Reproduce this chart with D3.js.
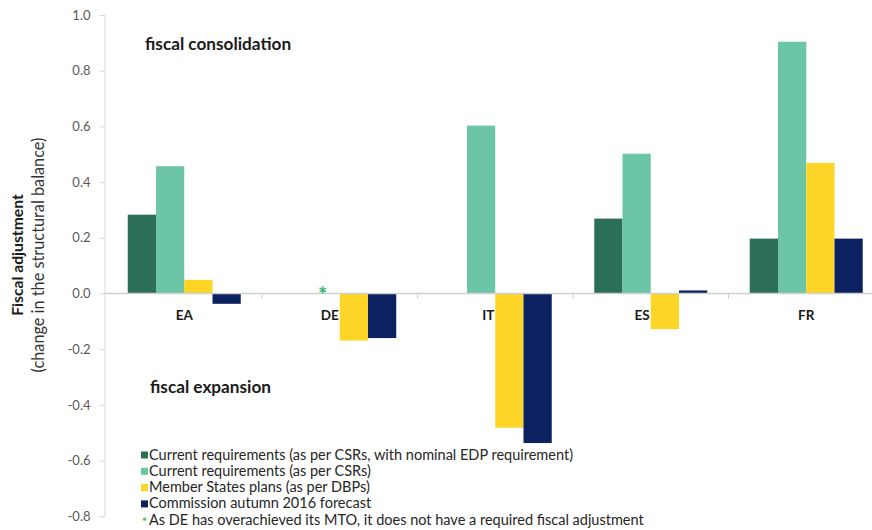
<!DOCTYPE html>
<html><head><meta charset="utf-8">
<script src="https://cdn.jsdelivr.net/npm/d3@7/dist/d3.min.js"></script>
<style>
body{margin:0;background:#fff;}
text{font-family:Lato,"Open Sans",sans-serif;}
</style></head>
<body><svg id="chart" width="872" height="530"></svg>
<script>
const categories = ["EA","DE","IT","ES","FR"];
const seriesNames = [
  "Current requirements (as per CSRs, with nominal EDP requirement)",
  "Current requirements (as per CSRs)",
  "Member States plans (as per DBPs)",
  "Commission autumn 2016 forecast"
];
const edpReq   = [0.283, 0,     0,      0.269, 0.197];
const csrReq   = [0.457, 0,     0.603,  0.502, 0.904];
const dbpPlans = [0.049, -0.169, -0.482, -0.128, 0.469];
const comForecast = [-0.037, -0.160, -0.537, 0.011, 0.197];
const yTicks = [-0.8,-0.6,-0.4,-0.2,0.0,0.2,0.4,0.6,0.8,1.0];
const footnote = "As DE has overachieved its MTO, it does not have a required fiscal adjustment";
const noRequirement = ["DE"];

const colors = ["#2b6f56","#6cc6a6","#fdd526","#0b2160"];
const seriesVals = [edpReq, csrReq, dbpPlans, comForecast];

const svg = d3.select("#chart");
const y = d3.scaleLinear().domain([-0.8,1.0]).range([516.3,15]);
const x0 = d3.scaleBand().domain(categories).range([106.5,884]).paddingInner(0).paddingOuter(0);
const innerW = 113;
const x1 = d3.scaleBand().domain(d3.range(4)).range([0,innerW]).padding(0);
const groupOff = (x0.bandwidth()-innerW)/2;

// y axis
const yAxis = svg.append("g").attr("transform","translate(104.5,0)")
  .call(d3.axisLeft(y).tickValues(yTicks).tickFormat(d=>d.toFixed(1)).tickSize(5).tickPadding(9));
yAxis.select(".domain").attr("stroke","#d9d9d9");
yAxis.selectAll(".tick line").attr("stroke","#d9d9d9");
yAxis.selectAll(".tick text").attr("fill","#595959").style("font-size","13px");

// bars
categories.forEach((c,i)=>{
  const g = svg.append("g").attr("transform",`translate(${x0(c)+groupOff},0)`);
  seriesVals.forEach((vals,s)=>{
    const v = vals[i];
    if (v===0) return;
    g.append("rect")
      .attr("x",x1(s)).attr("width",x1.bandwidth())
      .attr("y",y(Math.max(0,v))).attr("height",Math.abs(y(v)-y(0)))
      .attr("fill",colors[s]);
  });
});

// zero line with category tick marks
svg.append("line").attr("x1",104.5).attr("x2",872).attr("y1",y(0)).attr("y2",y(0))
  .attr("stroke","#cfcfcf").attr("stroke-width",1.5);
categories.slice(1).forEach(c=>{
  svg.append("line").attr("x1",x0(c)).attr("x2",x0(c)).attr("y1",y(0)).attr("y2",y(0)+5)
    .attr("stroke","#cfcfcf");
});

// category labels
categories.forEach((c,i)=>{
  const gx = x0(c)+groupOff;
  const neg = dbpPlans[i] < 0;
  svg.append("text")
    .attr("x", neg ? gx + x1(2) - 1 : gx + innerW/2)
    .attr("y", y(0)+26)
    .attr("text-anchor", neg ? "end" : "middle")
    .style("font-size","13.5px").style("font-weight","bold").attr("fill","#1a1a1a")
    .text(c);
});

// asterisk for DE
noRequirement.forEach(c=>{
  svg.append("text").attr("x",x0(c)+groupOff+x1(1)+x1.bandwidth()/2-3).attr("y",y(0)+9)
    .attr("text-anchor","middle").style("font-size","22px").style("font-weight","bold")
    .attr("fill","#2fb36c").text("*");
});

// annotations
svg.append("text").attr("x",145).attr("y",50).style("font-size","17.2px").style("font-weight","bold")
  .attr("fill","#1a1a1a").text("fiscal consolidation");
svg.append("text").attr("x",150).attr("y",393).style("font-size","17.2px").style("font-weight","bold")
  .attr("fill","#1a1a1a").text("fiscal expansion");

// y title
const yt = svg.append("text").attr("transform","translate(23,255) rotate(-90)").attr("text-anchor","middle");
yt.append("tspan").attr("x",0).attr("dy",0).style("font-size","15.7px").style("font-weight","bold").attr("fill","#1a1a1a").text("Fiscal adjustment");
yt.append("tspan").attr("x",0).attr("dy",21).style("font-size","16.3px").attr("fill","#333").text("(change in the structural balance)");

// legend
const step = 16.3;
const lg = svg.append("g").attr("transform","translate(141,455)");
seriesNames.forEach((n,i)=>{
  lg.append("rect").attr("x",0).attr("y",i*step-3.5).attr("width",7).attr("height",7).attr("fill",colors[i]);
  lg.append("text").attr("x",8).attr("y",i*step+4.5).style("font-size","14.5px").attr("fill","#262626").text(n);
});
lg.append("text").attr("x",3.5).attr("y",4*step+7).attr("text-anchor","middle").style("font-size","14px").attr("fill","#2fb36c").text("*");
lg.append("text").attr("x",8).attr("y",4*step+4.5).style("font-size","14.5px").attr("fill","#262626").text(footnote);
</script></body></html>
